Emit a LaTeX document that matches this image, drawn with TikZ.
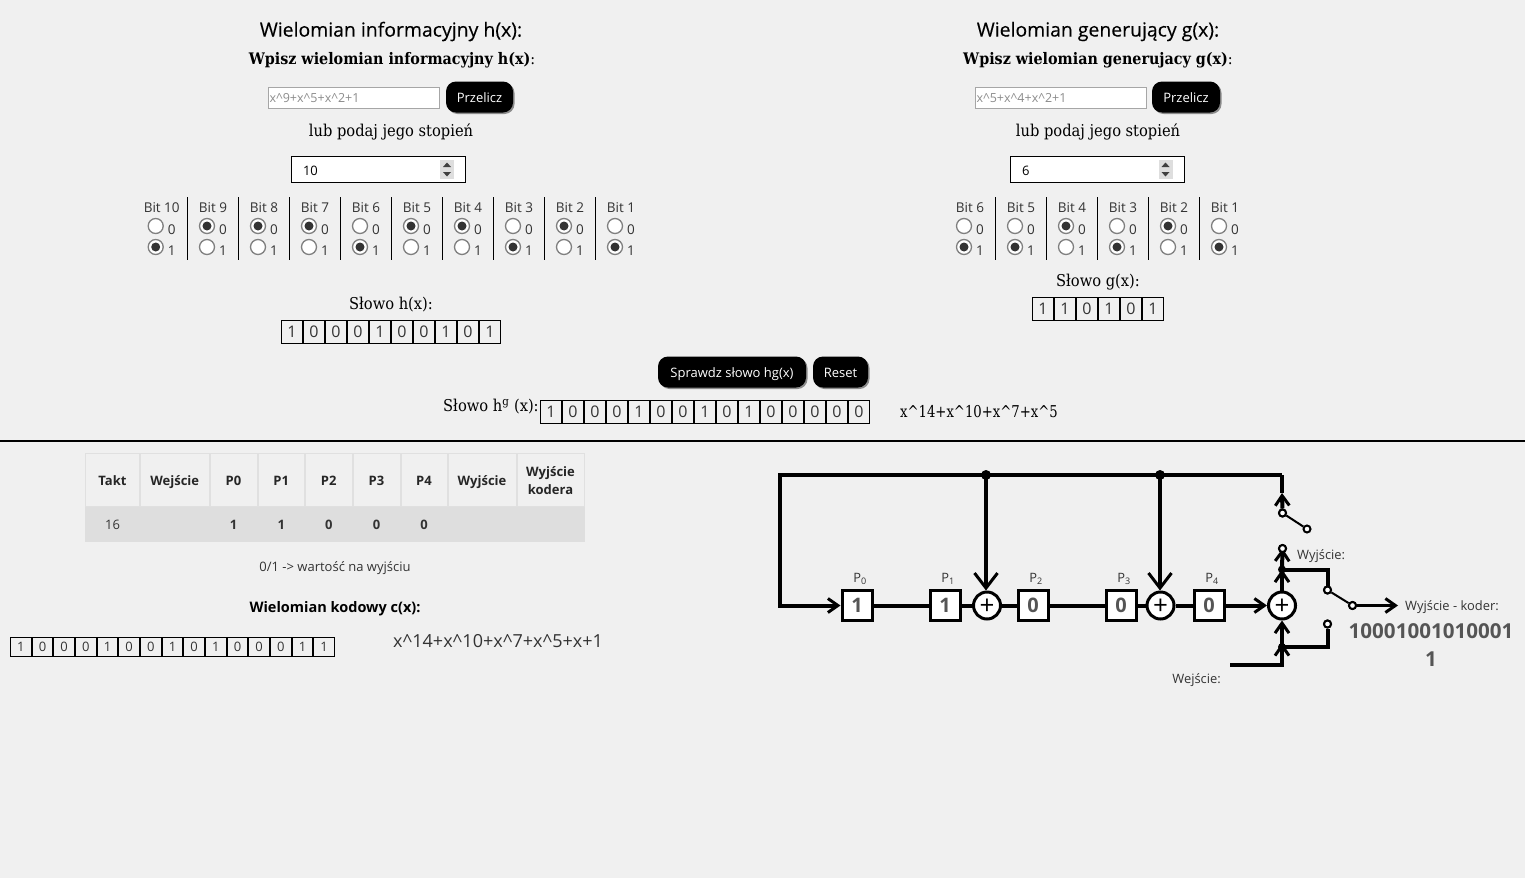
\documentclass[tikz,border=0pt]{standalone}
\usepackage{fontspec}
\setmainfont{Open Sans}
\newfontfamily\slab{DejaVu Serif Condensed}
\newfontfamily\titlefont[FakeBold=0.25]{Open Sans}
\usetikzlibrary{arrows.meta,matrix,shadows}
\newcommand{\fs}[1]{\fontsize{#1}{#1}\selectfont}
\newcommand{\fsl}[2]{\fontsize{#1}{#2}\selectfont}
\newcommand{\coderhead}{\begin{tabular}{@{}c@{}}Wyjście\\kodera\end{tabular}}
\definecolor{pagebg}{HTML}{F0F0F0}
\definecolor{inktext}{HTML}{333333}
\definecolor{valtext}{HTML}{555555}

\begin{document}
\begin{tikzpicture}[x=1pt,y=-1pt,>=stealth]
  \tikzstyle{title}=[font=\titlefont\fs{19.4},text=black,inner sep=0,yshift=-2.5pt]
  \tikzstyle{slabtext}=[font=\slab\fs{16.3},text=black,inner sep=0,yshift=-2pt]
  \tikzstyle{small}=[font=\fs{13.5},text=inktext,inner sep=0,yshift=-1pt]
  \tikzstyle{inputbox}=[draw=black!35,fill=white,line width=1pt,minimum width=171pt,minimum height=21pt,inner sep=1pt,anchor=north west,font=\fs{12.5},text=black!45,text width=169pt,text height=9pt,text depth=0pt]
  \tikzstyle{numbox}=[draw=black,fill=white,line width=1pt,minimum width=174pt,minimum height=26pt,inner sep=0,anchor=north west,font=\fs{13},text=black,align=left,text width=151pt,text height=11pt,text depth=0pt]
  \tikzstyle{btn}=[fill=black,rounded corners=10pt,text=white,font=\fs{13},minimum height=31pt,inner sep=0,text height=11pt,text depth=0pt,drop shadow={shadow xshift=1.5pt,shadow yshift=-1.5pt,fill=black!45,opacity=1}]
  \tikzstyle{radiobox}=[circle,draw=black!50,fill=white,line width=1.3pt,minimum size=15pt,inner sep=0]
  \tikzstyle{radioon}=[radiobox,path picture={\fill[black!80] (path picture bounding box.center) circle (4.5pt);}]
  \tikzstyle{wordcell}=[draw=black,line width=1pt,minimum width=21pt,minimum height=23pt,inner sep=0,outer sep=0,font=\fs{16},text=inktext]
  \tikzstyle{wordrow}=[matrix of nodes,inner sep=0,outer sep=0,anchor=north west,nodes={wordcell}]
  \tikzstyle{headcell}=[draw=black!12,fill=pagebg,line width=1pt,minimum height=52.5pt,font=\bfseries\fsl{13}{18},text=black!85,text height=11pt,text depth=0pt]
  \tikzstyle{rowcell}=[draw=black!13,fill=black!13,minimum height=34pt,font=\fs{13},text=inktext,text height=11.5pt,text depth=0pt]
  \tikzstyle{reg}=[draw=black,fill=white,line width=3pt,minimum size=30pt,inner sep=0,font=\bfseries\fs{20},text=valtext]
  \tikzstyle{xorgate}=[circle,draw=black,fill=white,line width=3pt,minimum size=27pt,inner sep=0,font=\fs{26},text=black,text height=18.8pt,text depth=0pt]
  \tikzstyle{wire}=[draw=black,line width=4pt]
  \tikzstyle{thin wire}=[draw=black,line width=2pt]
  \tikzstyle{term}=[circle,draw=black,fill=white,line width=2pt,minimum size=7pt,inner sep=0]
  \tikzstyle{dot}=[circle,fill=black,minimum size=10pt,inner sep=0]
  \tikzstyle{dotsm}=[circle,fill=black,minimum size=8pt,inner sep=0]
  \tikzstyle{tag}=[font=\fs{12.9},text=inktext,inner sep=0,yshift=-2pt]
  \tikzstyle{bigtip}=[-{Straight Barb[length=15pt,width=23pt,line width=3pt]}]
  \tikzstyle{midtip}=[-{Straight Barb[length=10pt,width=14pt,line width=3pt]}]

  \useasboundingbox (0,0) rectangle (1525,878);
  \fill[pagebg] (0,0) rectangle (1525,878);

  % left panel
  \node[title] (htitle) at (391,29) {Wielomian informacyjny h(x):};
  \node[slabtext,font=\slab\fs{15.9}] (hask) at (392,58) {\textbf{Wpisz wielomian informacyjny h(x)}:};
  \node[inputbox] (hinput) at (268,86.5) {x\^{}9+x\^{}5+x\^{}2+1};
  \node[btn,minimum width=67pt] (hbtn) at (479.5,97) {Przelicz};
  \node[slabtext] (hor) at (391,130) {lub podaj jego stopień};
  \node[numbox] (hdeg) at (291,156) {10};
  \fill[black!13] (440,160) rectangle (454,179);
  \fill[black!75] (447,162.5) -- (451,167) -- (443,167) -- cycle (447,176.5) -- (451,172) -- (443,172) -- cycle;

  % one column per bit: number, centre, state
  \foreach \b/\xx/\st in {10/155.7/1,9/207/0,8/258/0,7/309/0,6/360/1,5/411/0,4/462/0,3/513/1,2/564/0,1/615/1}{
    \node[small] (hb\b) at (\xx+6,207) {Bit \b};
    \ifnum\st=0
      \node[radioon] (hb\b z) at (\xx,226) {};
      \node[radiobox] (hb\b o) at (\xx,247) {};
    \else
      \node[radiobox] (hb\b z) at (\xx,226) {};
      \node[radioon] (hb\b o) at (\xx,247) {};
    \fi
    \node[small] at (\xx+16,229) {0};
    \node[small] at (\xx+16,250) {1};
  }
  \foreach \xx in {187.5,238.5,289.5,340.5,391.5,442.5,493.5,544.5,595.5}
    \draw[black,line width=1pt] (\xx,197) -- (\xx,259.5);

  \node[slabtext] (hwordlabel) at (391,303) {Słowo h(x):};
  \matrix (hword) [wordrow] at (281,319.5)
  {
    1 & 0 & 0 & 0 & 1 & 0 & 0 & 1 & 0 & 1 \\
  };

  % right panel
  \node[title] (gtitle) at (1098,29) {Wielomian generujący g(x):};
  \node[slabtext,font=\slab\fs{15.9}] (gask) at (1098,58) {\textbf{Wpisz wielomian generujacy g(x)}:};
  \node[inputbox] (ginput) at (975,86.5) {x\^{}5+x\^{}4+x\^{}2+1};
  \node[btn,minimum width=68pt] (gbtn) at (1186,97) {Przelicz};
  \node[slabtext] (gor) at (1098,130) {lub podaj jego stopień};
  \node[numbox] (gdeg) at (1010,156) {6};
  \fill[black!13] (1158.5,160) rectangle (1172.5,179);
  \fill[black!75] (1165.5,162.5) -- (1169.5,167) -- (1161.5,167) -- cycle (1165.5,176.5) -- (1169.5,172) -- (1161.5,172) -- cycle;

  \foreach \b/\xx/\st in {6/964/1,5/1015/1,4/1066/0,3/1117/1,2/1168/0,1/1219/1}{
    \node[small] (gb\b) at (\xx+6,207) {Bit \b};
    \ifnum\st=0
      \node[radioon] (gb\b z) at (\xx,226) {};
      \node[radiobox] (gb\b o) at (\xx,247) {};
    \else
      \node[radiobox] (gb\b z) at (\xx,226) {};
      \node[radioon] (gb\b o) at (\xx,247) {};
    \fi
    \node[small] at (\xx+16,229) {0};
    \node[small] at (\xx+16,250) {1};
  }
  \foreach \xx in {995.5,1046.5,1097.5,1148.5,1199.5}
    \draw[black,line width=1pt] (\xx,197) -- (\xx,259.5);

  \node[slabtext] (gwordlabel) at (1098,280) {Słowo g(x):};
  \matrix (gword) [wordrow] at (1032,296.5)
  {
    1 & 1 & 0 & 1 & 0 & 1 \\
  };

  % check row
  \node[btn,minimum width=148pt] (checkbtn) at (732,372) {Sprawdz słowo hg(x)};
  \node[btn,minimum width=55pt] (resetbtn) at (840.5,372) {Reset};
  \node[slabtext,anchor=west] (hglabel) at (443,405) {Słowo h\textsuperscript{g} (x):};
  \matrix (hgword) [wordrow] at (540,400)
  {
    1 & 0 & 0 & 0 & 1 & 0 & 0 & 1 & 0 & 1 & 0 & 0 & 0 & 0 & 0 \\
  };
  \node[slabtext,anchor=west] (hgpoly) at (900,410) {\scalebox{0.9}[1]{x\^{}14+x\^{}10+x\^{}7+x\^{}5}};
  \draw[black,line width=2pt] (0,441) -- (1525,441);

  % table
  \matrix (steps) [matrix of nodes,nodes in empty cells,inner sep=0,outer sep=0,anchor=north west
  ,nodes={anchor=center,inner sep=0,outer sep=0}
  ,row 1/.style={nodes={headcell}},row 2/.style={nodes={rowcell}}
  ,column 1/.style={nodes={minimum width=54pt}},column 2/.style={nodes={minimum width=68.5pt}}
  ,column 3/.style={nodes={minimum width=47pt}},column 4/.style={nodes={minimum width=46.5pt}}
  ,column 5/.style={nodes={minimum width=46.5pt}},column 6/.style={nodes={minimum width=47pt}}
  ,column 7/.style={nodes={minimum width=46pt}},column 8/.style={nodes={minimum width=68pt}}
  ,column 9/.style={nodes={minimum width=67pt}}] at (85,453)
  {
    Takt & Wejście & P0 & P1 & P2 & P3 & P4 & Wyjście & |[text height=23.5pt,text depth=13pt]| \coderhead \\
    16 & & \textbf{1} & \textbf{1} & \textbf{0} & \textbf{0} & \textbf{0} & & \\
  };
  \node[small,font=\fs{13}] (note) at (335,567) {0/1 -> wartość na wyjściu};
  \node[small,font=\bfseries\fs{14.5},text=black] (ctitle) at (335,608) {Wielomian kodowy c(x):};
  \matrix (cword) [wordrow,nodes={minimum width=20.67pt,minimum height=19pt,font=\fs{13}}] at (10,637)
  {
    1 & 0 & 0 & 0 & 1 & 0 & 0 & 1 & 0 & 1 & 0 & 0 & 0 & 1 & 1 \\
  };
  \node[small,anchor=west,font=\fs{18}] (cpoly) at (393,640.5) {x\^{}14+x\^{}10+x\^{}7+x\^{}5+x+1};

  % encoder
  \node[reg] (p0) at (857,605.5) {1};
  \node[reg] (p1) at (945,605.5) {1};
  \node[xorgate] (x1) at (987,605.5) {+};
  \node[reg] (p2) at (1033,605.5) {0};
  \node[reg] (p3) at (1121,605.5) {0};
  \node[xorgate] (x2) at (1160.5,605.5) {+};
  \node[reg] (p4) at (1209,605.5) {0};
  \node[xorgate] (x3) at (1282,605.5) {+};
  \node[tag] (lp0) at (860,577) {P\textsubscript{0}};
  \node[tag] (lp1) at (948,577) {P\textsubscript{1}};
  \node[tag] (lp2) at (1036,577) {P\textsubscript{2}};
  \node[tag] (lp3) at (1124,577) {P\textsubscript{3}};
  \node[tag] (lp4) at (1212,577) {P\textsubscript{4}};

  \coordinate (nw) at (780,475);
  \coordinate (ne) at (1282,475);
  \coordinate (sw) at (780,605.5);
  \coordinate (j1) at (986,475);
  \coordinate (j2) at (1160,475);
  \coordinate (toptip) at (1282,493);
  \node[term] (s1a) at (1282.5,513) {};
  \node[term] (s1b) at (1307,529) {};
  \node[term] (fb) at (1282.5,548.5) {};
  \coordinate (j3) at (1282,569.5);
  \coordinate (j3r) at (1327.5,569.5);
  \node[term] (s2a) at (1327.5,590) {};
  \node[term] (s2b) at (1352.5,605.5) {};
  \node[term] (s2c) at (1327.5,624) {};
  \coordinate (j4r) at (1327.5,647);
  \coordinate (j4) at (1282,647);
  \coordinate (inl) at (1230,664.5);
  \coordinate (inc) at (1282,664.5);
  \coordinate (outtip) at (1398,605.5);

  \path[wire]
  (p0) edge (p1)
  (p1) edge (x1)
  (x1) edge (p2)
  (p2) edge (p3)
  (p3) edge (x2)
  (x2) edge (p4);
  \draw[wire,midtip] (p4) -- (x3);
  \draw[wire,midtip] (ne) -- (nw) -- (sw) -- (p0);
  \draw[wire,bigtip] (j1) -- (j1 |- x1.north);
  \draw[wire,bigtip] (j2) -- (j2 |- x2.north);
  \draw[wire] (toptip) -- (ne);
  \draw[wire,midtip] (s1a) -- (toptip);
  \draw[thin wire] (s1a) -- (s1b);
  \draw[wire,midtip] (x3) -- (j3);
  \draw[wire,midtip] (j3) -- (fb.center);
  \draw[wire] (j3) -- (j3r) -- (s2a);
  \draw[thin wire] (s2a) -- (s2b);
  \draw[line width=3pt,midtip] (s2b) -- (outtip);
  \draw[wire] (s2c) -- (j4r) -- (j4);
  \draw[wire,midtip] (inl) -- (inc) -- ([yshift=4pt]j4);
  \draw[wire,midtip] (j4) -- (x3);
  % dots and terminals go over the wires
  \node[dot] at (j1) {};
  \node[dot] at (j2) {};
  \node[dotsm] at (j3) {};
  \node[dotsm] at (j4) {};
  \node[term] at (s1a) {};
  \node[term] at (fb) {};
  \node[term] at (s2a) {};
  \node[term] at (s2b) {};
  \node[term] at (s2c) {};

  \node[tag,anchor=west] (lfb) at (1297,554) {Wyjście:};
  \node[tag,anchor=west] (lout) at (1405,605) {Wyjście - koder:};
  \node[tag,anchor=east] (lin) at (1221,678) {Wejście:};
  \node[font=\bfseries\fs{20.6},text=valtext,inner sep=0] (out1) at (1431,631) {10001001010001};
  \node[font=\bfseries\fs{20.6},text=valtext,inner sep=0] (out2) at (1431,659) {1};
\end{tikzpicture}
\end{document}
